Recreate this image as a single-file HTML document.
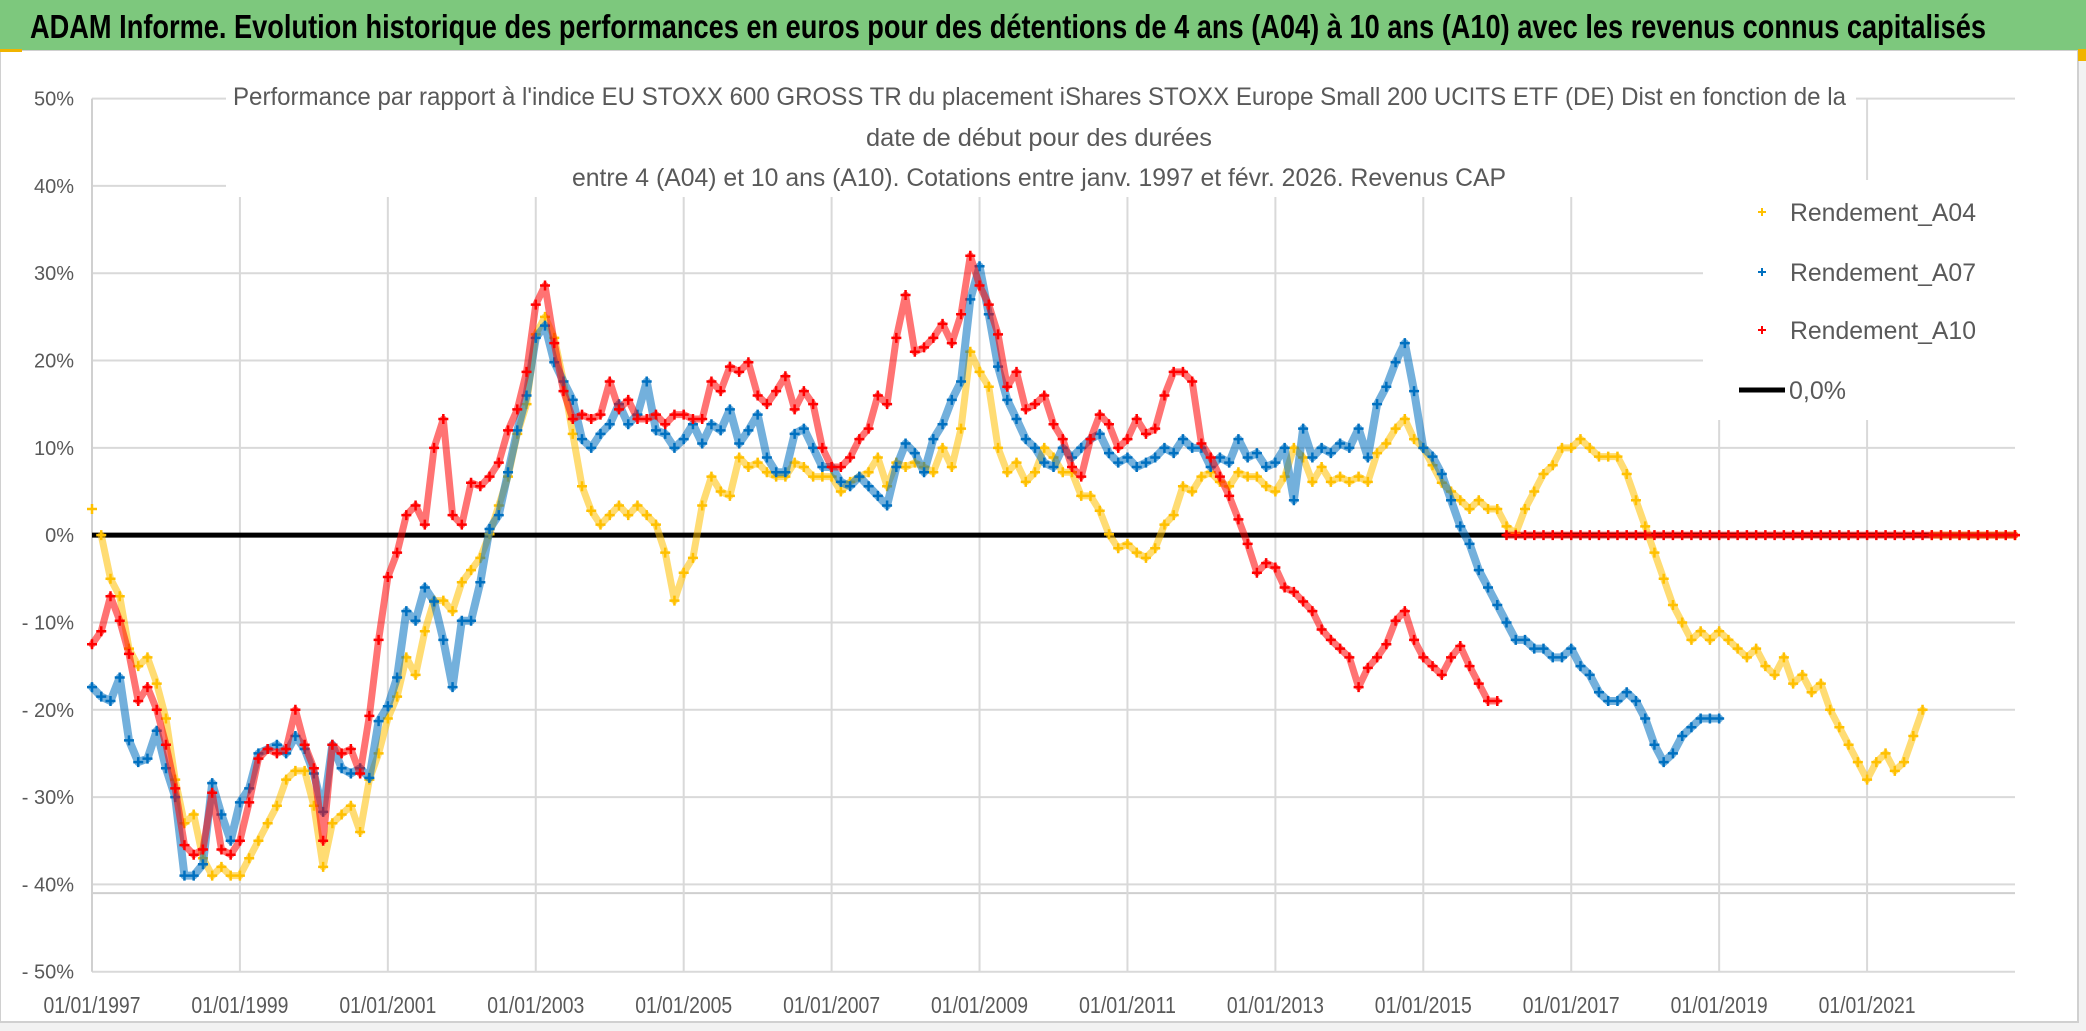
<!DOCTYPE html>
<html><head><meta charset="utf-8"><style>
html,body{margin:0;padding:0;background:#fff;}
svg{display:block;font-family:"Liberation Sans Narrow","Liberation Sans",sans-serif;}
</style></head><body>
<svg id="chart" width="2086" height="1031" viewBox="0 0 2086 1031" xmlns="http://www.w3.org/2000/svg">
<rect x="0" y="0" width="2086" height="1031" fill="#f2f2f2"/>
<rect x="0" y="50" width="2078" height="972" fill="#fff" stroke="#d0d0d0" stroke-width="2"/>
<rect x="0" y="0" width="2086" height="50" fill="#7dc87d"/>
<rect x="0" y="49" width="22" height="3" fill="#f0b400"/>
<rect x="2078" y="49" width="8" height="12" fill="#f0b400"/>
<text x="30" y="38" font-size="33" font-weight="bold" fill="#000" textLength="1956" lengthAdjust="spacingAndGlyphs">ADAM Informe. Evolution historique des performances en euros pour des détentions de 4 ans (A04) à 10 ans (A10) avec les revenus connus capitalisés</text>
<g id="grid"></g>
<g id="marks"></g>
<g id="overlay"></g>
</svg>
<script>
const yTicks = [50,40,30,20,10,0,-10,-20,-30,-40,-50];
const yTickLabels = ["50%","40%","30%","20%","10%","0%","- 10%","- 20%","- 30%","- 40%","- 50%"];
const xTicks = [1997,1999,2001,2003,2005,2007,2009,2011,2013,2015,2017,2019,2021];
const xTickLabels = ["01/01/1997","01/01/1999","01/01/2001","01/01/2003","01/01/2005","01/01/2007","01/01/2009","01/01/2011","01/01/2013","01/01/2015","01/01/2017","01/01/2019","01/01/2021"];
const seriesStart = 1997.0;
const seriesStep = 0.125;
const a04 = [3,0,-5,-7,-13,-15,-14,-17,
-21,-28,-33,-32,-37,-39,-38,-39,
-39,-37,-35,-33,-31,-28,-27,-27,
-31,-38,-33,-32,-31,-34,-28,-25,
-21,-18.5,-14,-16,-11,-7.5,-7.5,-8.7,
-5.4,-4,-2.6,0.1,3.4,6.7,11.6,15,
23,25,22.6,17.6,11.6,5.6,2.8,1.2,
2.3,3.4,2.3,3.4,2.3,1.2,-2,-7.5,
-4.3,-2.6,3.4,6.7,5,4.5,8.9,7.8,
8.3,7.2,6.7,6.7,8.3,7.8,6.7,6.7,
6.7,5,6.1,6.7,7.2,8.9,5.6,8.3,
7.8,8.3,7.8,7.2,10,7.8,12.2,21,
18.7,17,10,7.2,8.3,6.1,7.2,10,
8.9,7.2,7.2,4.5,4.5,2.8,0.1,-1.5,
-1,-2,-2.6,-1.5,1.2,2.3,5.6,5,
6.7,7.2,6.1,5.6,7.2,6.7,6.7,5.6,
5,6.7,10,8.9,6.1,7.8,6.1,6.7,
6.1,6.7,6.1,9.4,10.5,12.2,13.3,11,
10,8,6,5,4,3,4,3,
3,1,0.2,3,5,7,8,10,
10,11,10,9,9,9,7,4,
1,-2,-5,-8,-10,-12,-11,-12,
-11,-12,-13,-14,-13,-15,-16,-14,
-17,-16,-18,-17,-20,-22,-24,-26,
-28,-26,-25,-27,-26,-23,-20,
0,0,0,0,0,0,0,0,0,0];
const a07 = [-17.4,-18.5,-19,-16.3,-23.5,-26,-25.6,-22.4,
-26.7,-30,-39,-39,-37.7,-28.4,-32,-35,
-30.6,-29,-25,-24.5,-24,-25,-23,-24.5,
-27.3,-31.7,-24,-26.7,-27.3,-26.7,-27.8,-21.3,
-19.6,-16.3,-8.7,-9.8,-6,-7.6,-12,-17.4,
-9.8,-9.8,-5.4,0.7,2.3,7.2,12,16,
22.6,24,19.8,17.6,15.5,11,10,11.6,
12.7,15,12.7,13.8,17.6,12,11.6,10,
11,12.7,10.5,12.7,12,14.4,10.5,12,
13.8,8.9,7.2,7.2,11.6,12.2,10,7.8,
7.8,6.1,5.6,6.7,5.6,4.5,3.4,7.8,
10.5,9.4,7.2,11,12.7,15.5,17.6,27,
30.8,25.3,19.3,15.5,13.3,11,10,8.3,
7.8,10,8.9,10,11,11.6,9.4,8.3,
8.9,7.8,8.3,8.9,10,9.4,11,10,
10,7.8,8.9,8.3,11,8.9,9.4,7.8,
8.3,10,4,12.2,8.9,10,9.4,10.5,
10,12.2,8.9,15,17,19.8,22,16.5,
10,9,7,4,1,-1,-4,-6,
-8,-10,-12,-12,-13,-13,-14,-14,
-13,-15,-16,-18,-19,-19,-18,-19,
-21,-24,-26,-25,-23,-22,-21,-21,
-21];
const a10 = [-12.5,-11,-7,-9.8,-13.6,-19,-17.4,-20,
-24,-29,-35.5,-36.6,-36,-29.5,-36,-36.6,
-35,-30.6,-25.6,-24.5,-25,-24.5,-20,-24,
-26.7,-35,-24,-25,-24.5,-27.3,-20.7,-12,
-4.8,-2,2.3,3.4,1.2,10,13.3,2.3,
1.2,6,5.6,6.7,8.3,12,14.4,18.7,
26.4,28.6,22,16.5,13.3,13.8,13.3,13.8,
17.6,14.4,15.5,13.3,13.3,13.8,12.7,13.8,
13.8,13.3,13.3,17.6,16.5,19.3,18.7,19.8,
16,15,16.5,18.2,14.4,16.5,15,10,
7.8,7.8,8.9,11,12.2,16,15,22.6,
27.5,21,21.5,22.6,24.2,22,25.3,32,
28.6,26.4,23,17,18.7,14.4,15,16,
12.7,11,7.8,6.7,11,13.8,12.7,10,
11,13.3,11.6,12.2,16,18.7,18.7,17.6,
10.5,8.9,6.7,4.5,1.8,-1,-4.3,-3.2,
-3.7,-6,-6.5,-7.6,-8.7,-10.8,-12,-13,
-14,-17.4,-15.2,-14,-12.5,-9.8,-8.7,-12,
-14,-15,-16,-14,-12.7,-15,-17,-19,
-19,
0,0,0,0,0,0,0,0,0,0,0,0,0,0,0,0,0,0,0,0,
0,0,0,0,0,0,0,0,0,0,0,0,0,0,0,0,0,0,0,0,
0,0,0,0,0,0,0,0,0,0,0,0,0,0,0,0];

const NS = "http://www.w3.org/2000/svg";
const PL = 92, PR = 2015, PT = 98.6, PB = 971.7;
const X0 = 1997, X1 = 2023;
function xs(v){ return PL + (v - X0) / (X1 - X0) * (PR - PL); }
function ys(v){ return PB - (v + 50) / 100 * (PB - PT); }
function mk(tag, attrs, parent){ const e = document.createElementNS(NS, tag); for (const k in attrs) e.setAttribute(k, attrs[k]); parent.appendChild(e); return e; }

const grid = document.getElementById('grid');
const marks = document.getElementById('marks');
const overlay = document.getElementById('overlay');

yTicks.forEach((t, i) => {
  const y = ys(t);
  const l = mk('line', {x1: PL, x2: PR, y1: y, y2: y, stroke: '#d9d9d9', 'stroke-width': 2}, grid);
  
  
  const tx = mk('text', {x: 74, y: y + 7, 'text-anchor': 'end', 'font-size': 20, fill: '#595959'}, grid);
  tx.textContent = yTickLabels[i];
  
  
});
const extra = mk('line', {x1: PL, x2: PR, y1: ys(-41), y2: ys(-41), stroke: '#cfcfcf', 'stroke-width': 2}, grid);


xTicks.forEach((t, i) => {
  const x = xs(t);
  if (i > 0) {
    const l = mk('line', {x1: x, x2: x, y1: PT, y2: PB, stroke: '#d9d9d9', 'stroke-width': 2}, grid);
    
    
  }
  const tx = mk('text', {x: x, y: 1013, 'text-anchor': 'middle', 'font-size': 23, fill: '#595959', textLength: 97, lengthAdjust: 'spacingAndGlyphs'}, grid);
  tx.textContent = xTickLabels[i];
  
  
});
const yAxis = mk('line', {x1: PL, x2: PL, y1: PT, y2: PB, stroke: '#d0d0d0', 'stroke-width': 2}, grid);



mk('rect', {x: 226, y: 62, width: 1630, height: 135, fill: '#fff'}, grid);
mk('rect', {x: 1703, y: 180, width: 312, height: 240, fill: '#fff'}, grid);

const zl = mk('line', {x1: PL, x2: PR, y1: ys(0), y2: ys(0), stroke: '#000', 'stroke-width': 5}, marks);



function drawSeries(vals, color, sw, size, bandW, name){
  const g = mk('g', {}, marks);
  
  
  let band = '', d = '';
  vals.forEach((v, i) => {
    const x = xs(seriesStart + i * seriesStep), y = ys(v);
    const brk = i === 0 || (v === 0 && vals[i - 1] !== 0);
    band += (brk ? 'M' : 'L') + x + ' ' + y;
    d += 'M' + (x - size) + ' ' + y + 'h' + (2 * size) + 'M' + x + ' ' + (y - size) + 'v' + (2 * size);
  });
  const b = mk('path', {d: band, fill: 'none', stroke: color, 'stroke-width': bandW, 'stroke-opacity': 0.55, 'stroke-linejoin': 'round', 'stroke-linecap': 'round'}, g);
  
  
  const p = mk('path', {d: d, fill: 'none', stroke: color, 'stroke-width': sw}, g);
  
  
}
drawSeries(a04, '#ffc000', 2.5, 5, 7, 'series-a04');
drawSeries(a07, '#0070c0', 2.5, 5, 8, 'series-a07');
drawSeries(a10, '#ff0000', 2.5, 5, 7, 'series-a10');

const subs = [
  ["Performance par rapport à l'indice EU STOXX 600 GROSS TR  du placement iShares STOXX Europe Small 200 UCITS ETF (DE) Dist en fonction de la", 233, 105, 1613],
  ["date de début pour des durées", 866, 146, 346],
  ["entre 4 (A04) et 10 ans (A10). Cotations entre janv. 1997 et févr. 2026. Revenus CAP", 572, 186, 934]
];
subs.forEach(s => {
  const t = mk('text', {x: s[1], y: s[2], 'font-size': 25, fill: '#595959', textLength: s[3], lengthAdjust: 'spacingAndGlyphs'}, overlay);
  t.textContent = s[0];
  
  
});

const legendNames = ["Rendement_A04", "Rendement_A07", "Rendement_A10"];
const legendColors = ["#ffc000", "#0070c0", "#ff0000"];
const legY = [212, 272, 330];
legendNames.forEach((n, i) => {
  const g = mk('g', {}, overlay);
  
  
  mk('path', {d: 'M1758 ' + legY[i] + 'h8M1762 ' + (legY[i] - 4) + 'v8', stroke: legendColors[i], 'stroke-width': 2}, g);
  const t = mk('text', {x: 1790, y: legY[i] + 9, 'font-size': 25, fill: '#595959', textLength: 186, lengthAdjust: 'spacingAndGlyphs'}, g);
  t.textContent = n;
});
const lz = mk('g', {}, overlay);


mk('line', {x1: 1739, x2: 1785, y1: 390, y2: 390, stroke: '#000', 'stroke-width': 5}, lz);
const lzt = mk('text', {x: 1789, y: 399, 'font-size': 25, fill: '#595959'}, lz);
lzt.textContent = "0,0%";
</script>
</body></html>
